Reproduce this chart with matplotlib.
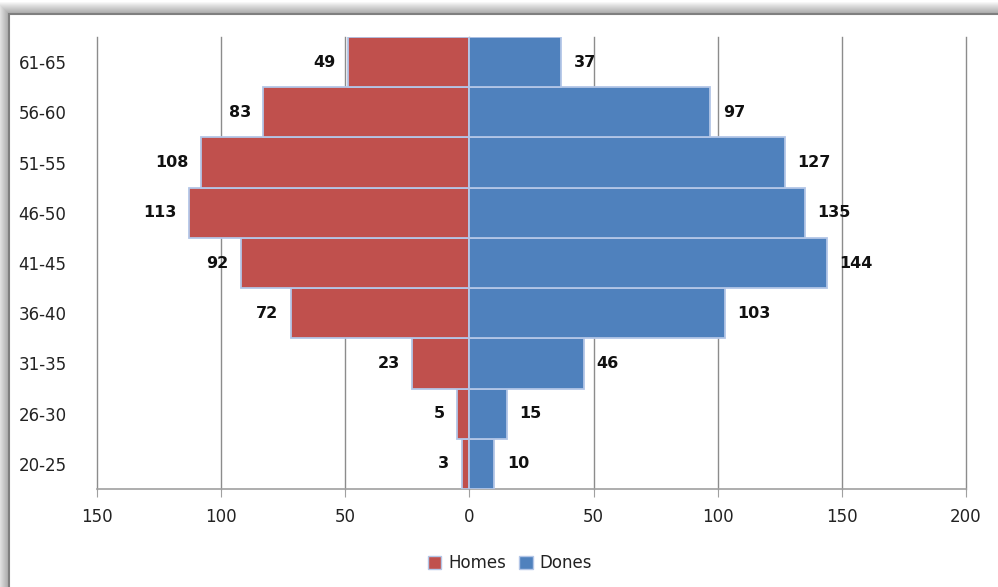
import matplotlib
matplotlib.use('Agg')
from matplotlib import pyplot as plt
from matplotlib.patches import Rectangle, Patch
from matplotlib.ticker import FuncFormatter

# age groups, bottom to top
groups = ['20-25', '26-30', '31-35', '36-40', '41-45', '46-50', '51-55', '56-60', '61-65']
homes = [3, 5, 23, 72, 92, 113, 108, 83, 49]
dones = [10, 15, 46, 103, 144, 135, 127, 97, 37]
xticks = [-150, -100, -50, 0, 50, 100, 150, 200]

red = '#C0504D'
blue = '#4F81BD'
edge = '#B3C6E7'
grid = '#8C8C8C'

plt.rcParams['font.family'] = ['DejaVu Sans']

fig = plt.figure(figsize=(9.98, 5.87), dpi=100)

# shadowed chart frame
x0, y0 = 9 / 998., 1 - 14 / 587.
for k in range(12, 0, -1):
    dx = k / 998.
    dy = k / 587.
    fig.patches.append(Rectangle((x0 - dx, -0.2), 1.5, y0 + dy + 0.2,
                                 transform=fig.transFigure, facecolor='#000000',
                                 alpha=0.03, edgecolor='none', zorder=0))
fig.patches.append(Rectangle((x0, -0.2), 1.5, y0 + 0.2, transform=fig.transFigure,
                             facecolor='white', edgecolor='#7F7F7F', linewidth=1.5, zorder=1))

ax = fig.add_axes((97 / 998., 1 - 489 / 587., (966 - 97) / 998., (489 - 37) / 587.))
ax.set_zorder(2)
ax.patch.set_visible(False)

y = range(len(groups))
neg = [-v for v in homes]
ax.barh(y, neg, height=1.0, color=red, edgecolor=edge, linewidth=1.3, zorder=3)
ax.barh(y, dones, height=1.0, color=blue, edgecolor=edge, linewidth=1.3, zorder=3)

for i in y:
    ax.annotate(str(homes[i]), (neg[i], i), xytext=(-9, 0), textcoords='offset points',
                ha='right', va='center', fontsize=11.5, fontweight='bold', color='#111111')
    ax.annotate(str(dones[i]), (dones[i], i), xytext=(9, 0), textcoords='offset points',
                ha='left', va='center', fontsize=11.5, fontweight='bold', color='#111111')

ax.set_xlim(-150, 200)
ax.set_ylim(-0.5, len(groups) - 0.5)
ax.set_xticks(xticks)
ax.xaxis.set_major_formatter(FuncFormatter(lambda v, p: '%d' % abs(v)))
ax.set_yticks(list(y))
ax.set_yticklabels(groups)
ax.grid(axis='x', color=grid, linewidth=1.0, zorder=0)
ax.set_axisbelow(True)
for line in ax.get_xgridlines():
    line.set_clip_on(False)

for s in ['top', 'right', 'left']:
    ax.spines[s].set_visible(False)
ax.spines['bottom'].set_color('#A0A0A0')
ax.spines['bottom'].set_linewidth(1.2)
ax.tick_params(axis='x', direction='out', length=6, color='#A0A0A0', labelsize=12,
               labelcolor='#222222', pad=8)
ax.tick_params(axis='y', length=0, labelsize=12, labelcolor='#222222', pad=22)

handles = [Patch(facecolor=red, edgecolor=edge, label='Homes'),
           Patch(facecolor=blue, edgecolor=edge, label='Dones')]
fig.legend(handles=handles, loc='center', bbox_to_anchor=(510 / 998., 1 - 563 / 587.),
           ncol=2, frameon=False, fontsize=12, handlelength=0.8, handleheight=0.8,
           handletextpad=0.4, columnspacing=0.8, labelcolor='#222222')

fig.savefig('out.png', dpi=100)
